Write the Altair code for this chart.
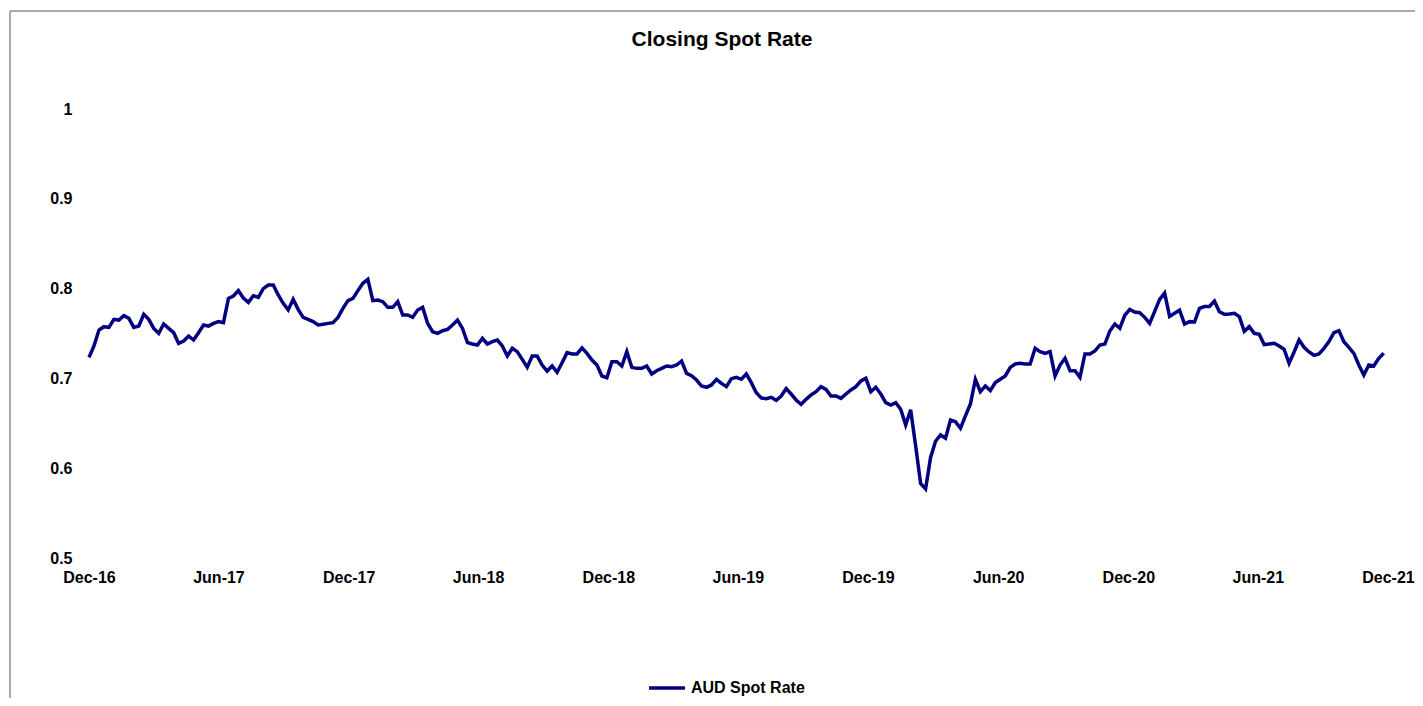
import altair as alt
import pandas as pd

# ---------------- data ----------------
title_text = "Closing Spot Rate"
series_name = "AUD Spot Rate"
start_date = "2016-12-02"   # weekly closes from early Dec 2016

aud_rate = [
    # Dec-16 .. Oct-17
    0.7234, 0.7361, 0.7539, 0.7576, 0.7568, 0.7658, 0.7650, 0.7698, 0.7669, 0.7568,
    0.7583, 0.7713, 0.7658, 0.7557, 0.7502, 0.7606, 0.7557, 0.7509, 0.7390, 0.7416,
    0.7472, 0.7427, 0.7509, 0.7595, 0.7583, 0.7613, 0.7632, 0.7621, 0.7891, 0.7917,
    0.7977, 0.7895, 0.7847, 0.7921, 0.7903, 0.7999, 0.8040, 0.8040, 0.7929, 0.7836,
    0.7762, 0.7880, 0.7769, 0.7680,
    # Oct-17 .. Aug-18
    0.7658, 0.7632, 0.7595, 0.7602, 0.7613, 0.7621, 0.7680, 0.7780, 0.7866, 0.7891,
    0.7977, 0.8059, 0.8103, 0.7866, 0.7873, 0.7854, 0.7791, 0.7791, 0.7854, 0.7706,
    0.7706, 0.7680, 0.7762, 0.7791, 0.7613, 0.7520, 0.7502, 0.7531, 0.7546, 0.7595,
    0.7650, 0.7557, 0.7398, 0.7383, 0.7372, 0.7446, 0.7383, 0.7409, 0.7427, 0.7361,
    0.7249, 0.7335,
    # Aug-18 .. Jun-19
    0.7298, 0.7212, 0.7123, 0.7249, 0.7249, 0.7149, 0.7082, 0.7138, 0.7068, 0.7175,
    0.7287, 0.7272, 0.7272, 0.7340, 0.7279, 0.7205, 0.7149, 0.7027, 0.7008, 0.7186,
    0.7186, 0.7138, 0.7298, 0.7123, 0.7112, 0.7112, 0.7138, 0.7049, 0.7086, 0.7112,
    0.7138, 0.7131, 0.7149, 0.7194, 0.7056, 0.7030, 0.6982, 0.6915, 0.6901, 0.6927,
    0.6990, 0.6945, 0.6908,
    # Jun-19 .. Apr-20
    0.6997, 0.7012, 0.6990, 0.7049, 0.6953, 0.6841, 0.6782, 0.6774, 0.6789, 0.6756,
    0.6804, 0.6886, 0.6826, 0.6760, 0.6711, 0.6767, 0.6815, 0.6852, 0.6908, 0.6878,
    0.6804, 0.6804, 0.6778, 0.6826, 0.6871, 0.6908, 0.6971, 0.7001, 0.6852, 0.6901,
    0.6826, 0.6730, 0.6704, 0.6730, 0.6656, 0.6480, 0.6650, 0.6250, 0.5830, 0.5770,
    0.6120, 0.6300, 0.6370,
    # Apr-20 .. Feb-21
    0.6333, 0.6537, 0.6518, 0.6444, 0.6582, 0.6715, 0.6990, 0.6853, 0.6916, 0.6864,
    0.6953, 0.6990, 0.7027, 0.7123, 0.7161, 0.7168, 0.7161, 0.7161, 0.7335, 0.7298,
    0.7279, 0.7298, 0.7027, 0.7149, 0.7224, 0.7086, 0.7086, 0.7012, 0.7272, 0.7272,
    0.7305, 0.7372, 0.7383, 0.7528, 0.7606, 0.7558, 0.7703, 0.7769, 0.7740, 0.7732,
    0.7680, 0.7613, 0.7747,
    # Feb-21 .. Dec-21
    0.7880, 0.7950, 0.7690, 0.7725, 0.7760, 0.7606, 0.7632, 0.7628, 0.7780, 0.7800,
    0.7800, 0.7860, 0.7743, 0.7714, 0.7717, 0.7725, 0.7688, 0.7524, 0.7576, 0.7502,
    0.7491, 0.7376, 0.7383, 0.7391, 0.7361, 0.7324, 0.7168, 0.7294, 0.7428, 0.7346,
    0.7294, 0.7257, 0.7272, 0.7335, 0.7409, 0.7510, 0.7532, 0.7409, 0.7346, 0.7279,
    0.7150, 0.7038, 0.7150, 0.7138, 0.7224, 0.7279,
]

y_ticks = [0.5, 0.6, 0.7, 0.8, 0.9, 1.0]
x_tick_dates = [(2016, 12, 2), (2017, 6, 2), (2017, 12, 2), (2018, 6, 2),
                (2018, 12, 2), (2019, 6, 2), (2019, 12, 2), (2020, 6, 2),
                (2020, 12, 2), (2021, 6, 2), (2021, 12, 2)]

dates = pd.date_range(start_date, periods=len(aud_rate), freq="7D")
df = pd.DataFrame({"date": dates, "rate": aud_rate, "series": series_name})

FONT = "Liberation Sans"
W, H = 1299, 449
PAD = {"left": 81, "top": 101, "right": 27, "bottom": 140}

def dt(t):
    return alt.DateTime(year=t[0], month=t[1], date=t[2])

line = alt.Chart(df).mark_line(strokeWidth=3.5, clip=False).encode(
    x=alt.X(
        "date:T",
        scale=alt.Scale(domain=[dt(x_tick_dates[0]), dt(x_tick_dates[-1])]),
        axis=alt.Axis(
            values=[dt(t) for t in x_tick_dates], format="%b-%y", title=None,
            domain=False, ticks=False, grid=False, labelFont=FONT, labelFontSize=16,
            labelFontWeight="bold", labelColor="black", labelPadding=11,
            labelFlush=False, labelOverlap=False,
        ),
    ),
    y=alt.Y(
        "rate:Q",
        scale=alt.Scale(domain=[0.5, 1.0], nice=False, zero=False),
        axis=alt.Axis(
            values=y_ticks, format=".1~f", title=None, domain=False, ticks=False,
            grid=False, labelFont=FONT, labelFontSize=16, labelFontWeight="bold",
            labelColor="black", labelPadding=17,
        ),
    ),
    color=alt.Color(
        "series:N",
        scale=alt.Scale(range=["#000080"]),
        legend=alt.Legend(
            orient="none", legendX=558, legendY=559, title=None,
            symbolType="stroke", symbolSize=1296, symbolStrokeWidth=3.5,
            labelFont=FONT, labelFontSize=16, labelFontWeight="bold",
            labelColor="black", labelOffset=4, padding=0,
        ),
    ),
)

frame_df = pd.DataFrame({"k": [0]})
top_border = alt.Chart(frame_df).mark_rule(color="#8c8c8c", strokeWidth=1.5).encode(
    x=alt.value(-79), x2=alt.value(W + PAD["right"]), y=alt.value(-98)
)
left_border = alt.Chart(frame_df).mark_rule(color="#8c8c8c", strokeWidth=1.5).encode(
    x=alt.value(-79), y=alt.value(-98), y2=alt.value(H + PAD["bottom"])
)
title_mark = alt.Chart(frame_df).mark_text(
    font=FONT, fontSize=21, fontWeight="bold", color="black",
    align="center", baseline="middle",
).encode(x=alt.value(633), y=alt.value(-69), text=alt.value(title_text))

chart = alt.layer(top_border, left_border, title_mark, line).properties(
    width=W,
    height=H,
    autosize=alt.AutoSizeParams(type="none"),
    padding=PAD,
    background="white",
).configure_view(strokeWidth=0, stroke=None)

chart.save("out.html", embed_options={"renderer": "svg", "actions": False})
